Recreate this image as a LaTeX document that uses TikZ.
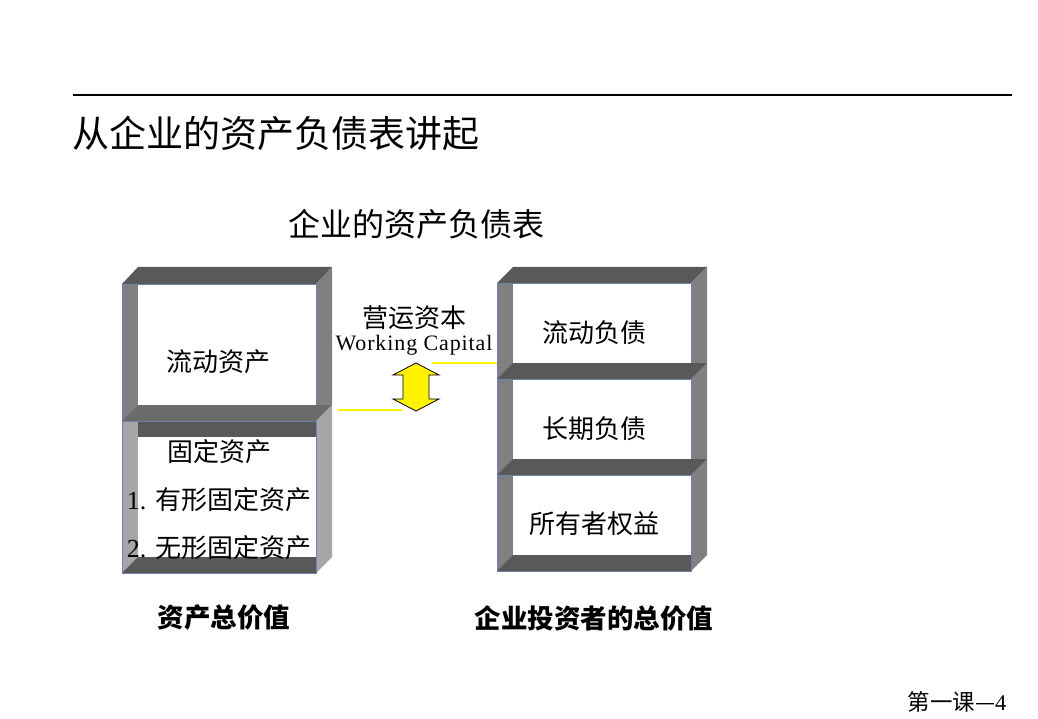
\documentclass[tikz,border=0pt]{standalone}
\usepackage{fontspec}
\setmainfont{Liberation Serif}
\newfontfamily\cjk{Noto Sans CJK SC}
\usetikzlibrary{positioning}
\definecolor{edgeblue}{RGB}{112,130,178}
\tikzset{
  topface/.style={fill=black!65},
  midface/.style={fill=black!58},
  sideface/.style={fill=black!50},
  lightface/.style={fill=black!35},
  frontedge/.style={draw=edgeblue,line width=0.8pt},
  yline/.style={draw=yellow,line width=1.5pt},
  lbl/.style={font=\cjk\fontsize{26}{30}\selectfont,inner sep=0pt},
  total/.style={font=\cjk\bfseries\fontsize{26.5}{30}\selectfont,inner sep=0pt}
}
\begin{document}
\begin{tikzpicture}[x=1pt,y=-1pt]
\useasboundingbox (0,0) rectangle (1038,719);
% heading
\draw[line width=2pt] (73,95) -- (1012,95);
\node[anchor=west,inner sep=0pt,font=\cjk\fontsize{37}{42}\selectfont] (title) at (72,133) {从企业的资产负债表讲起};
\node[font=\cjk\fontsize{32}{36}\selectfont,inner sep=0pt] (sheet) at (416,224) {企业的资产负债表};

% assets: upper box
\fill[topface] (122,284) -- (316,284) -- (332,267) -- (138,267) -- cycle;
\fill[sideface] (316,284) -- (332,267) -- (332,405) -- (316,421) -- cycle;
\fill[sideface] (122,284) rectangle (138,421);
\draw[frontedge] (122,284) rectangle (316,421);
% assets: lower box
\fill[midface] (122,421) -- (316,421) -- (332,405) -- (138,405) -- cycle;
\fill[lightface] (316,421) -- (332,405) -- (332,557) -- (316,573) -- cycle;
\fill[lightface] (122,421) rectangle (138,573);
\fill[white] (138,437) rectangle (316,557);
\fill[topface] (138,421) rectangle (316,437);
\fill[topface] (122,573) -- (138,557) -- (316,557) -- (316,573) -- cycle;
\draw[frontedge] (122,421) rectangle (316,573);

% liabilities: three stacked boxes
\foreach \t/\b in {283/379,379/475,475/571} {
  \fill[topface] (497,\t) -- (691,\t) -- (707,\t-16) -- (513,\t-16) -- cycle;
  \fill[sideface] (691,\t) -- (707,\t-16) -- (707,\b-16) -- (691,\b) -- cycle;
  \fill[sideface] (497,\t) rectangle (513,\b);
  \draw[frontedge] (497,\t) rectangle (691,\b);
}
\fill[topface] (497,571) -- (513,555) -- (691,555) -- (691,571) -- cycle;

% box labels
\node[lbl] (ca) at (218,362) {流动资产};
\node[lbl] (fa) at (219,452) {固定资产};
\node[lbl] (fa1) at (219,500) {\rmfamily 1. \cjk 有形固定资产};
\node[lbl] (fa2) at (219,548) {\rmfamily 2. \cjk 无形固定资产};
\node[lbl] (cl) at (594,333) {流动负债};
\node[lbl] (ll) at (594,429) {长期负债};
\node[lbl] (oe) at (594,524) {所有者权益};

% working capital
\node[lbl] (wc) at (414,318) {营运资本};
\node[font=\fontsize{22}{26}\selectfont\addfontfeature{LetterSpace=4},inner sep=0pt] (wcen) at (414,345) {Working Capital};
\coordinate (ylA) at (338,410);
\coordinate (ylB) at (402,410);
\coordinate (ylC) at (432,363);
\coordinate (ylD) at (497,363);
\draw[yline] (ylA) -- (ylB);
\draw[yline] (ylC) -- (ylD);
\draw[fill=yellow,line width=0.8pt,line join=miter]
  (416,363) -- (439,375) -- (429,375) -- (429,399) -- (439,399) -- (416,411)
  -- (393,399) -- (403,399) -- (403,375) -- (393,375) -- cycle;

% totals
\node[total] (ta) at (224,618) {资产总价值};
\node[total] (ti) at (594,618) {企业投资者的总价值};
\node[font=\cjk\fontsize{22.5}{26}\selectfont,inner sep=0pt] (page) at (957,702) {第一课—{\rmfamily 4}};
\end{tikzpicture}
\end{document}
